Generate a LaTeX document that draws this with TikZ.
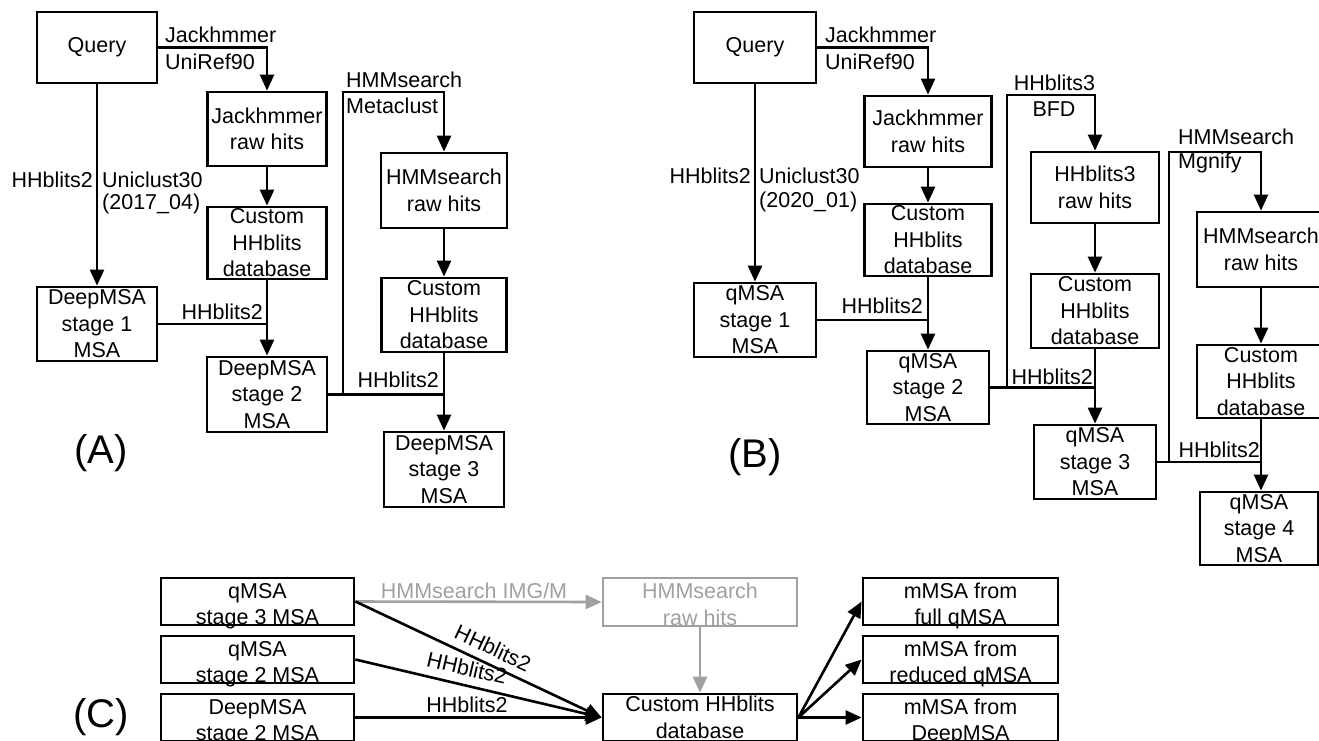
\documentclass[tikz,border=0pt]{standalone}
\usepackage{fontspec}
\setmainfont{Liberation Sans}
\usetikzlibrary{arrows.meta}
\definecolor{hmmgray}{RGB}{160,160,160}
% two-line boxes: lift the first line's head room, drop the last line's depth,
% so the text sits a little lower in the short boxes
\newcommand\twolines[2]{\rule{0pt}{19.5pt}#1\\\smash{#2}}
\begin{document}
\begin{tikzpicture}[x=1pt,y=-1pt,
  every node/.style={font=\fontsize{21.5}{26.5}\selectfont},
  box/.style={draw, line width=2.8pt, inner sep=0pt, align=center},
  sz/.style 2 args={minimum width=#1pt, minimum height=#2pt},
  lbl/.style={inner sep=0pt},
  link/.style={line width=2.6pt},
  flow/.style={link, -{Triangle[width=14pt,length=16pt]}},
  panel/.style={font=\fontsize{40}{44}\selectfont, inner sep=0pt}
]
\useasboundingbox (0,0) rectangle (1319,740);

% ---------------- Panel A: DeepMSA ----------------
\node[box, sz={120}{71}] (qA)  at (97,47.5)   {Query};
\node[box, sz={119}{74}] (jA)  at (267,129)   {Jackhmmer\\raw hits};
\node[box, sz={119}{72}] (cA1) at (267,243)   {Custom\\HHblits\\database};
\node[box, sz={120}{74}] (d1A) at (97,324)    {DeepMSA\\stage 1\\MSA};
\node[box, sz={120}{75}] (d2A) at (267,394.5) {DeepMSA\\stage 2\\MSA};
\node[box, sz={126}{75}] (hA)  at (444,190.5) {HMMsearch\\raw hits};
\node[box, sz={125}{74}] (cA2) at (444,315)   {Custom\\HHblits\\database};
\node[box, sz={120}{75}] (d3A) at (444,469.5) {DeepMSA\\stage 3\\MSA};

\draw[flow] (qA.east) -| (jA.north);
\draw[flow] (qA.south) -- (d1A.north);
\draw[flow] (jA.south) -- (cA1.north);
\draw[link] (d1A.east) -- (d1A.east -| cA1.south);
\draw[flow] (cA1.south) -- (d2A.north);
\coordinate (mA) at (343,92);
\draw[flow] (d2A.east) -- (d2A.east -| mA) -- (mA) -| (hA.north);
\draw[link] (d2A.east) -- (d2A.east -| cA2.south);
\draw[flow] (hA.south) -- (cA2.north);
\draw[flow] (cA2.south) -- (d3A.north);

\node[lbl, anchor=west] (tA1) at (165,35)  {Jackhmmer};
\node[lbl, anchor=west] (tA2) at (165,62)  {UniRef90};
\node[lbl, anchor=east] (tA3) at (93,180)  {HHblits2};
\node[lbl, anchor=west] (tA4) at (102,180) {Uniclust30};
\node[lbl, anchor=west] (tA5) at (102,204) {(2017\_04)};
\node[lbl, anchor=east] (tA6) at (263,312) {HHblits2};
\node[lbl, anchor=west] (tA7) at (346,80)  {HMMsearch};
\node[lbl, anchor=west] (tA8) at (346,106) {Metaclust};
\node[lbl, anchor=east] (tA9) at (439,380) {HHblits2};
\node[panel] (pA) at (101,453) {(A)};

% ---------------- Panel B: qMSA ----------------
\node[box, sz={122}{71}] (qB)  at (755,47.5)   {Query};
\node[box, sz={127}{71}] (jB)  at (928,131.5)  {Jackhmmer\\raw hits};
\node[box, sz={127}{72}] (cB1) at (928,240)    {Custom\\HHblits\\database};
\node[box, sz={122}{74}] (s1B) at (755,320)    {qMSA\\stage 1\\MSA};
\node[box, sz={122}{73}] (s2B) at (928,387.5)  {qMSA\\stage 2\\MSA};
\node[box, sz={128}{71}] (h3B) at (1095,187.5) {HHblits3\\raw hits};
\node[box, sz={128}{74}] (cB2) at (1095,311)   {Custom\\HHblits\\database};
\node[box, sz={122}{74}] (s3B) at (1095,462)   {qMSA\\stage 3\\MSA};
\node[box, sz={128}{75}] (hB)  at (1261,249.5) {HMMsearch\\raw hits};
\node[box, sz={128}{73}] (cB3) at (1261,381.5) {Custom\\HHblits\\database};
\node[box, sz={118}{73}] (s4B) at (1259,528.5) {qMSA\\stage 4\\MSA};

\draw[flow] (qB.east) -| (jB.north);
\draw[flow] (qB.south) -- (s1B.north);
\draw[flow] (jB.south) -- (cB1.north);
\draw[link] (s1B.east) -- (s1B.east -| cB1.south);
\draw[flow] (cB1.south) -- (s2B.north);
\coordinate (mB1) at (1007,95);
\draw[flow] (s2B.east) -- (s2B.east -| mB1) -- (mB1) -| (h3B.north);
\draw[link] (s2B.east) -- (s2B.east -| cB2.south);
\draw[flow] (h3B.south) -- (cB2.north);
\draw[flow] (cB2.south) -- (s3B.north);
\coordinate (mB2) at (1169,152);
\draw[flow] (s3B.east) -- (s3B.east -| mB2) -- (mB2) -| (hB.north);
\draw[link] (s3B.east) -- (s3B.east -| cB3.south);
\draw[flow] (hB.south) -- (cB3.north);
\draw[flow] (cB3.south) -- (cB3.south |- s4B.north);

\node[lbl, anchor=west] (tB1)  at (825,35)   {Jackhmmer};
\node[lbl, anchor=west] (tB2)  at (825,62)   {UniRef90};
\node[lbl, anchor=east] (tB3)  at (751,176)  {HHblits2};
\node[lbl, anchor=west] (tB4)  at (759,176)  {Uniclust30};
\node[lbl, anchor=west] (tB5)  at (759,202)  {(2020\_01)};
\node[lbl, anchor=east] (tB6)  at (923,306)  {HHblits2};
\node[lbl]              (tB7)  at (1054.5,83) {HHblits3};
\node[lbl]              (tB8)  at (1054,109) {BFD};
\node[lbl, anchor=east] (tB9)  at (1093,377) {HHblits2};
\node[lbl, anchor=west] (tB10) at (1178,137) {HMMsearch};
\node[lbl, anchor=west] (tB11) at (1178,163) {Mgnify};
\node[lbl, anchor=east] (tB12) at (1260,450) {HHblits2};
\node[panel] (pB) at (755,457) {(B)};

% ---------------- Panel C: mMSA ----------------
\node[box, sz={193}{47}] (cq3) at (257.5,601.5) {\twolines{qMSA}{stage 3 MSA}};
\node[box, sz={193}{47}] (cq2) at (257.5,659.5) {\twolines{qMSA}{stage 2 MSA}};
\node[box, sz={193}{47}] (cd2) at (257.5,717.5) {\twolines{DeepMSA}{stage 2 MSA}};
\node[box, draw=hmmgray, text=hmmgray, sz={194}{48}] (chm) at (700,602) {\twolines{HMMsearch}{raw hits}};
\node[box, sz={194}{47}] (cdb) at (700,717.5) {Custom HHblits\\database};
\node[box, sz={195}{47}] (m1) at (960.5,601.5) {\twolines{mMSA from}{full qMSA}};
\node[box, sz={195}{47}] (m2) at (960.5,659.5) {\twolines{mMSA from}{reduced qMSA}};
\node[box, sz={195}{47}] (m3) at (960.5,717.5) {\twolines{mMSA from}{DeepMSA}};
\node[panel] (pC) at (101,717) {(C)};

\draw[flow, hmmgray] (cq3.east) -- (chm.west);
\draw[flow, hmmgray] (chm.south) -- (cdb.north);
\node[lbl, text=hmmgray] (tC1) at (474,591) {HMMsearch IMG/M};

\draw[flow] (cq3.east) -- (cdb.west);
\draw[flow] (cq2.east) -- (cdb.west);
\draw[flow] (cd2.east) -- (cdb.west);
\node[lbl, rotate=-25] (tC2) at (493,648) {HHblits2};
\node[lbl, rotate=-13] (tC3) at (467,668) {HHblits2};
\node[lbl]             (tC4) at (467,705) {HHblits2};

\draw[flow] (cdb.east) -- (m1.west);
\draw[flow] (cdb.east) -- (m2.west);
\draw[flow] (cdb.east) -- (m3.west);
\end{tikzpicture}
\end{document}
